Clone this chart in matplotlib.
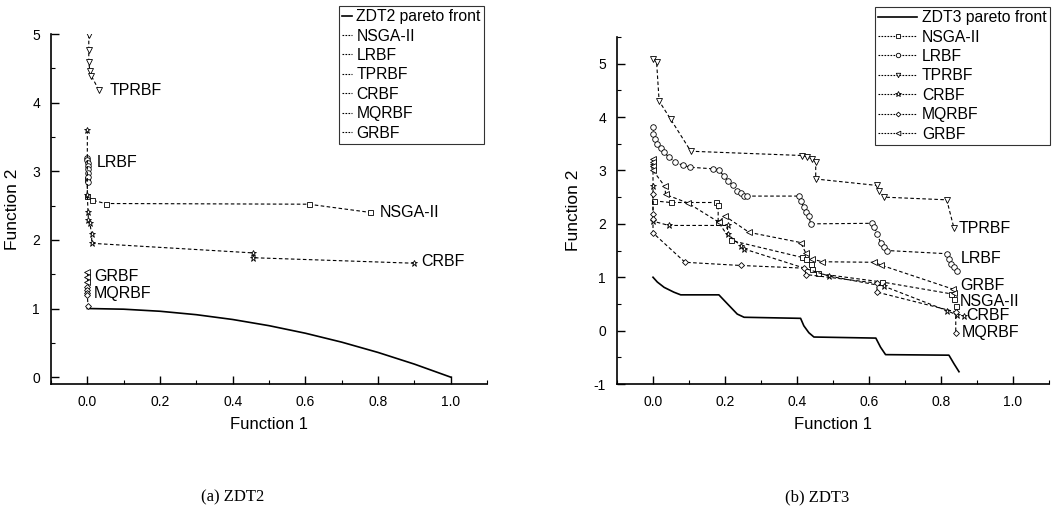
import matplotlib
matplotlib.use("Agg")
import matplotlib.pyplot as plt
from matplotlib.lines import Line2D
from matplotlib.ticker import MultipleLocator

# ---------------- data: ZDT2 (left) ----------------
zdt2_front_f1 = [0.0, 0.1, 0.2, 0.3, 0.4, 0.5, 0.6, 0.7, 0.8, 0.9, 1.0]
zdt2_front_f2 = [1.0, 0.99, 0.96, 0.91, 0.84, 0.75, 0.64, 0.51, 0.36, 0.19, 0.0]

a_nsga_f1 = [0.0, 0.0, 0.012, 0.05, 0.609, 0.779]
a_nsga_f2 = [2.88, 2.64, 2.58, 2.53, 2.52, 2.40]
a_lrbf_f1 = [0.0, 0.0, 0.001, 0.001, 0.002, 0.002, 0.003, 0.003]
a_lrbf_f2 = [3.20, 3.16, 3.12, 3.08, 3.03, 2.98, 2.92, 2.85]
a_tprbf_f1 = [0.004, 0.004, 0.004, 0.007, 0.011, 0.032]
a_tprbf_f2 = [4.99, 4.76, 4.59, 4.46, 4.39, 4.18]
a_crbf_f1 = [0.0, 0.0, 0.002, 0.003, 0.007, 0.012, 0.012, 0.457, 0.457, 0.898]
a_crbf_f2 = [3.60, 2.65, 2.40, 2.29, 2.24, 2.08, 1.95, 1.81, 1.74, 1.66]
a_mqrbf_f1 = [0.0, 0.0, 0.0, 0.0, 0.002]
a_mqrbf_f2 = [1.32, 1.27, 1.23, 1.19, 1.03]
a_grbf_f1 = [0.0, 0.0, 0.0]
a_grbf_f2 = [1.53, 1.46, 1.39]

# ---------------- data: ZDT3 (right) ----------------
zdt3_front_f1 = [0.0, 0.012, 0.031, 0.058, 0.077, 0.183, 0.207, 0.234, 0.253,
                 0.41, 0.419, 0.433, 0.447, 0.619, 0.632, 0.646, 0.822, 0.836, 0.85]
zdt3_front_f2 = [1.0, 0.91, 0.81, 0.72, 0.67, 0.67, 0.50, 0.31, 0.25,
                 0.23, 0.09, -0.04, -0.12, -0.14, -0.31, -0.45, -0.46, -0.62, -0.77]

b_nsga_f1 = [0.003, 0.049, 0.174, 0.181, 0.181, 0.216, 0.415, 0.426, 0.438, 0.443,
             0.457, 0.637, 0.827, 0.836, 0.841]
b_nsga_f2 = [2.43, 2.40, 2.40, 2.35, 2.04, 1.69, 1.37, 1.34, 1.25, 1.16,
             1.07, 0.91, 0.69, 0.59, 0.47]
b_lrbf_f1 = [0.001, 0.001, 0.005, 0.012, 0.021, 0.031, 0.044, 0.062, 0.082, 0.104,
             0.168, 0.183, 0.197, 0.207, 0.221, 0.234, 0.245, 0.253, 0.26, 0.406,
             0.41, 0.419, 0.424, 0.433, 0.438, 0.609, 0.614, 0.623, 0.632, 0.642,
             0.651, 0.818, 0.822, 0.827, 0.836, 0.845]
b_lrbf_f2 = [3.81, 3.68, 3.59, 3.50, 3.43, 3.34, 3.25, 3.15, 3.10, 3.06,
             3.03, 3.00, 2.90, 2.81, 2.72, 2.62, 2.57, 2.53, 2.52, 2.52,
             2.43, 2.31, 2.22, 2.15, 2.00, 2.01, 1.94, 1.81, 1.65, 1.56,
             1.50, 1.44, 1.34, 1.25, 1.19, 1.12]
b_tprbf_f1 = [0.001, 0.010, 0.017, 0.049, 0.105, 0.415, 0.429, 0.441, 0.452, 0.452,
              0.621, 0.628, 0.642, 0.816, 0.836]
b_tprbf_f2 = [5.09, 5.03, 4.30, 3.96, 3.36, 3.28, 3.25, 3.22, 3.15, 2.84,
              2.72, 2.62, 2.50, 2.45, 1.92]
b_crbf_f1 = [0.0, 0.0, 0.0, 0.044, 0.207, 0.207, 0.244, 0.253, 0.49, 0.642,
             0.818, 0.845, 0.864]
b_crbf_f2 = [3.10, 2.70, 2.05, 1.97, 1.97, 1.81, 1.59, 1.53, 1.02, 0.83,
             0.37, 0.29, 0.28]
b_mqrbf_f1 = [0.0, 0.0, 0.0, 0.0, 0.089, 0.244, 0.419, 0.426, 0.621, 0.623,
              0.841, 0.841]
b_mqrbf_f2 = [2.55, 2.19, 2.09, 1.83, 1.28, 1.22, 1.17, 1.05, 0.89, 0.72,
              0.35, -0.04]
b_grbf_f1 = [0.0, 0.0, 0.0, 0.0, 0.033, 0.035, 0.097, 0.183, 0.199, 0.267,
             0.41, 0.424, 0.443, 0.47, 0.614, 0.632, 0.832, 0.836]
b_grbf_f2 = [3.22, 3.15, 3.08, 3.00, 2.70, 2.55, 2.39, 2.03, 2.15, 1.84,
             1.65, 1.46, 1.34, 1.29, 1.28, 1.23, 0.78, 0.70]

series_names = ["NSGA-II", "LRBF", "TPRBF", "CRBF", "MQRBF", "GRBF"]
markers = {"NSGA-II": "s", "LRBF": "o", "TPRBF": "v", "CRBF": "*", "MQRBF": "D", "GRBF": "<"}
msizes = {"NSGA-II": 3.6, "LRBF": 4.0, "TPRBF": 4.0, "CRBF": 5.0, "MQRBF": 3.0, "GRBF": 4.2}

left_series = {
    "NSGA-II": (a_nsga_f1, a_nsga_f2), "LRBF": (a_lrbf_f1, a_lrbf_f2),
    "TPRBF": (a_tprbf_f1, a_tprbf_f2), "CRBF": (a_crbf_f1, a_crbf_f2),
    "MQRBF": (a_mqrbf_f1, a_mqrbf_f2), "GRBF": (a_grbf_f1, a_grbf_f2),
}
right_series = {
    "NSGA-II": (b_nsga_f1, b_nsga_f2), "LRBF": (b_lrbf_f1, b_lrbf_f2),
    "TPRBF": (b_tprbf_f1, b_tprbf_f2), "CRBF": (b_crbf_f1, b_crbf_f2),
    "MQRBF": (b_mqrbf_f1, b_mqrbf_f2), "GRBF": (b_grbf_f1, b_grbf_f2),
}

left_labels = {"TPRBF": (0.06, 4.18), "LRBF": (0.026, 3.13), "NSGA-II": (0.806, 2.40),
               "CRBF": (0.918, 1.68), "GRBF": (0.018, 1.47), "MQRBF": (0.018, 1.22)}
right_labels = {"TPRBF": (0.85, 1.92), "LRBF": (0.854, 1.36), "GRBF": (0.854, 0.84),
                "NSGA-II": (0.852, 0.55), "CRBF": (0.869, 0.28), "MQRBF": (0.857, -0.04)}

plt.rcParams['font.family'] = ['Liberation Sans', 'DejaVu Sans']
plt.rcParams['axes.unicode_minus'] = False

W, H = 1055, 529
fig = plt.figure(figsize=(W / 100, H / 100), dpi=100)

def px_axes(x0, y0, x1, y1):
    return fig.add_axes([x0 / W, 1 - y1 / H, (x1 - x0) / W, (y1 - y0) / H])

axL = px_axes(51, 34, 487, 384)
axR = px_axes(617, 37, 1049, 384)

DASH = (3.2, 2.2)

def draw(ax, front_f1, front_f2, front_name, series, labels, xlim, ylim, ymaj):
    ax.plot(front_f1, front_f2, color="black", lw=1.2, label=front_name)
    for name in series_names:
        f1, f2 = series[name]
        ax.plot(f1, f2, color="black", lw=0.8, dashes=DASH, marker=markers[name],
                markersize=msizes[name], markerfacecolor="white",
                markeredgecolor="black", markeredgewidth=0.6, label=name)
    for name, (tx, ty) in labels.items():
        ax.text(tx, ty, name, fontsize=11.5, ha="left", va="center")
    ax.set_xlim(*xlim)
    ax.set_ylim(*ylim)
    for s in ["top", "right"]:
        ax.spines[s].set_visible(False)
    for s in ["left", "bottom"]:
        ax.spines[s].set_linewidth(1.2)
    ax.xaxis.set_major_locator(MultipleLocator(0.2))
    ax.xaxis.set_minor_locator(MultipleLocator(0.1))
    ax.yaxis.set_major_locator(MultipleLocator(ymaj))
    ax.yaxis.set_minor_locator(MultipleLocator(ymaj / 2))
    ax.tick_params(which="major", direction="in", length=6, width=1.0, labelsize=10, pad=8)
    ax.tick_params(which="minor", direction="in", length=3, width=0.8)
    ax.set_xlabel("Function 1", fontsize=12, labelpad=6)
    ax.set_ylabel("Function 2", fontsize=12.5, labelpad=9)

draw(axL, zdt2_front_f1, zdt2_front_f2, "ZDT2 pareto front", left_series, left_labels,
     (-0.1, 1.1), (-0.1, 5.0), 1)
draw(axR, zdt3_front_f1, zdt3_front_f2, "ZDT3 pareto front", right_series, right_labels,
     (-0.1, 1.1), (-1.0, 5.5), 1)
axL.set_xticks([0.0, 0.2, 0.4, 0.6, 0.8, 1.0])
axR.set_xticks([0.0, 0.2, 0.4, 0.6, 0.8, 1.0])

# legends
hL = [Line2D([], [], color="black", lw=1.2)] + \
     [Line2D([], [], color="black", lw=0.8, dashes=(1.5, 1.2)) for _ in series_names]
legL = fig.legend(hL, ["ZDT2 pareto front"] + series_names, loc="upper left",
                  bbox_to_anchor=(339 / W, 1 - 6 / H), fontsize=11.3, frameon=True,
                  fancybox=False, edgecolor="black", handlelength=0.6, handletextpad=0.3,
                  borderpad=0.2, labelspacing=0.28, borderaxespad=0)
legL.get_frame().set_linewidth(0.8)

hR = [Line2D([], [], color="black", lw=1.2)] + \
     [Line2D([], [], color="black", lw=0.8, dashes=(1.5, 1.2), marker=markers[n],
             markersize=msizes[n] * 0.8, markerfacecolor="white", markeredgecolor="black",
             markeredgewidth=0.6) for n in series_names]
legR = fig.legend(hR, ["ZDT3 pareto front"] + series_names, loc="upper left",
                  bbox_to_anchor=(875 / W, 1 - 7 / H), fontsize=11.3, frameon=True,
                  fancybox=False, edgecolor="black", handlelength=2.5, handletextpad=0.3,
                  borderpad=0.2, labelspacing=0.28, borderaxespad=0)
legR.get_frame().set_linewidth(0.8)

# captions
fig.text(233 / W, 1 - 497 / H, "(a) ZDT2", fontsize=12, ha="center", va="center",
         family=["Liberation Serif", "DejaVu Serif"])
fig.text(817 / W, 1 - 497 / H, "(b) ZDT3", fontsize=12, ha="center", va="center",
         family=["Liberation Serif", "DejaVu Serif"])

fig.savefig("out.png", dpi=100)
